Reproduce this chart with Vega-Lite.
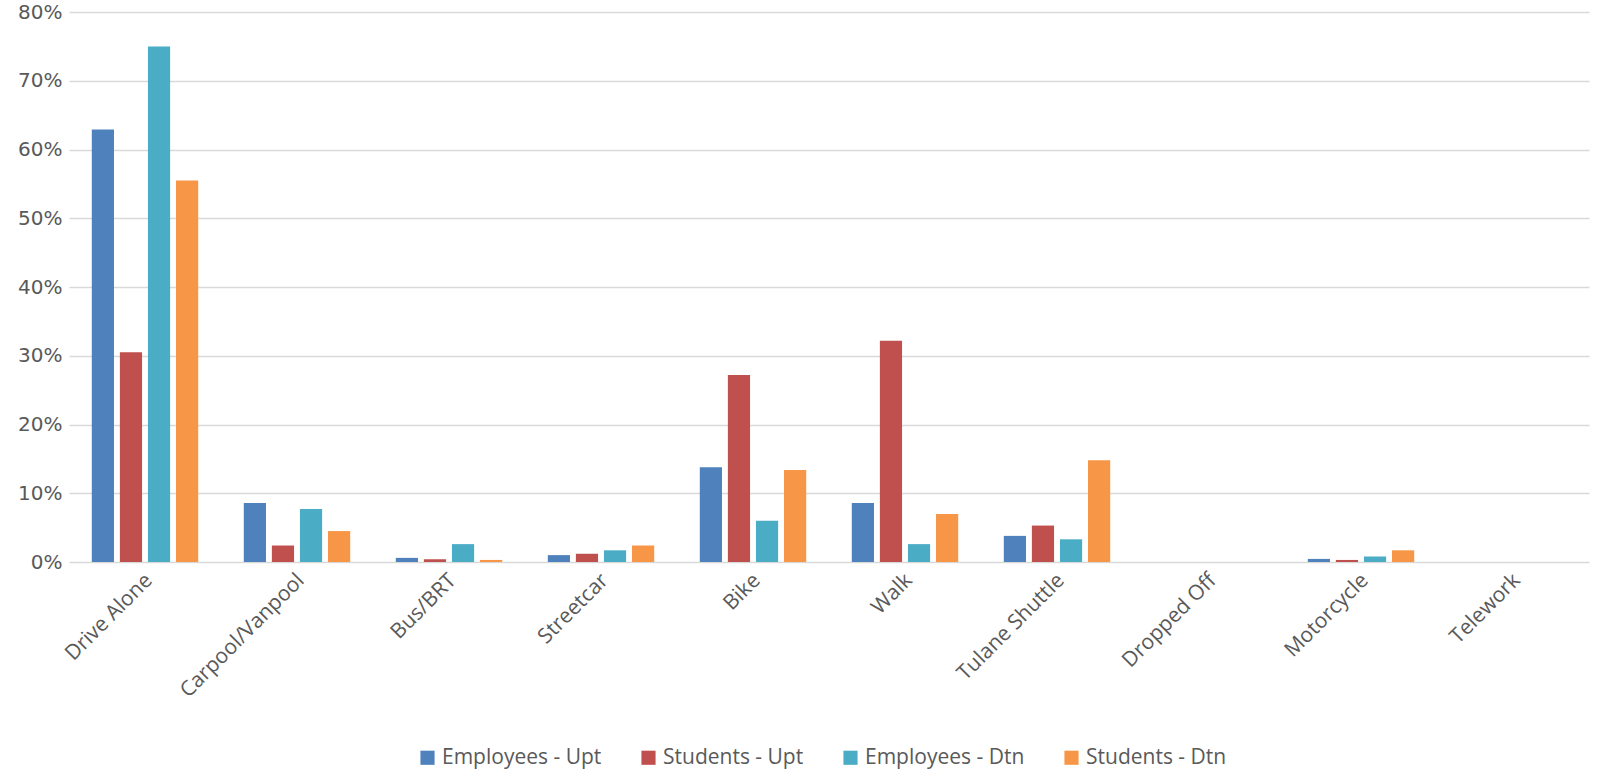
{
  "$schema": "https://vega.github.io/schema/vega-lite/v6.json",
  "autosize": {"type": "none"},
  "width": 1520,
  "height": 550,
  "padding": {"left": 69, "top": 12, "right": 21, "bottom": 208},
  "background": "white",
  "data": {
    "values": [
      {"mode": "Drive Alone", "group": "Employees - Upt", "share": 0.629},
      {"mode": "Drive Alone", "group": "Students - Upt", "share": 0.305},
      {"mode": "Drive Alone", "group": "Employees - Dtn", "share": 0.750},
      {"mode": "Drive Alone", "group": "Students - Dtn", "share": 0.555},
      {"mode": "Carpool/Vanpool", "group": "Employees - Upt", "share": 0.086},
      {"mode": "Carpool/Vanpool", "group": "Students - Upt", "share": 0.024},
      {"mode": "Carpool/Vanpool", "group": "Employees - Dtn", "share": 0.077},
      {"mode": "Carpool/Vanpool", "group": "Students - Dtn", "share": 0.045},
      {"mode": "Bus/BRT", "group": "Employees - Upt", "share": 0.006},
      {"mode": "Bus/BRT", "group": "Students - Upt", "share": 0.004},
      {"mode": "Bus/BRT", "group": "Employees - Dtn", "share": 0.026},
      {"mode": "Bus/BRT", "group": "Students - Dtn", "share": 0.003},
      {"mode": "Streetcar", "group": "Employees - Upt", "share": 0.010},
      {"mode": "Streetcar", "group": "Students - Upt", "share": 0.012},
      {"mode": "Streetcar", "group": "Employees - Dtn", "share": 0.017},
      {"mode": "Streetcar", "group": "Students - Dtn", "share": 0.024},
      {"mode": "Bike", "group": "Employees - Upt", "share": 0.138},
      {"mode": "Bike", "group": "Students - Upt", "share": 0.272},
      {"mode": "Bike", "group": "Employees - Dtn", "share": 0.060},
      {"mode": "Bike", "group": "Students - Dtn", "share": 0.134},
      {"mode": "Walk", "group": "Employees - Upt", "share": 0.086},
      {"mode": "Walk", "group": "Students - Upt", "share": 0.322},
      {"mode": "Walk", "group": "Employees - Dtn", "share": 0.026},
      {"mode": "Walk", "group": "Students - Dtn", "share": 0.070},
      {"mode": "Tulane Shuttle", "group": "Employees - Upt", "share": 0.038},
      {"mode": "Tulane Shuttle", "group": "Students - Upt", "share": 0.053},
      {"mode": "Tulane Shuttle", "group": "Employees - Dtn", "share": 0.033},
      {"mode": "Tulane Shuttle", "group": "Students - Dtn", "share": 0.148},
      {"mode": "Dropped Off", "group": "Employees - Upt", "share": 0},
      {"mode": "Dropped Off", "group": "Students - Upt", "share": 0},
      {"mode": "Dropped Off", "group": "Employees - Dtn", "share": 0},
      {"mode": "Dropped Off", "group": "Students - Dtn", "share": 0},
      {"mode": "Motorcycle", "group": "Employees - Upt", "share": 0.0045},
      {"mode": "Motorcycle", "group": "Students - Upt", "share": 0.003},
      {"mode": "Motorcycle", "group": "Employees - Dtn", "share": 0.008},
      {"mode": "Motorcycle", "group": "Students - Dtn", "share": 0.017},
      {"mode": "Telework", "group": "Employees - Upt", "share": 0},
      {"mode": "Telework", "group": "Students - Upt", "share": 0},
      {"mode": "Telework", "group": "Employees - Dtn", "share": 0},
      {"mode": "Telework", "group": "Students - Dtn", "share": 0}
    ]
  },
  "mark": {"type": "bar"},
  "encoding": {
    "x": {
      "field": "mode",
      "type": "nominal",
      "sort": null,
      "title": null,
      "scale": {"paddingInner": 0.3, "paddingOuter": 0.15},
      "axis": {
        "labelAngle": -45,
        "labelAlign": "right",
        "labelBaseline": "middle",
        "labelPadding": 15,
        "labelOffset": 4,
        "labelFont": "Open Sans",
        "labelFontSize": 21,
        "labelColor": "#595959",
        "ticks": false,
        "domain": false,
        "grid": false
      }
    },
    "xOffset": {
      "field": "group",
      "type": "nominal",
      "sort": ["Employees - Upt", "Students - Upt", "Employees - Dtn", "Students - Dtn"],
      "scale": {"paddingInner": 0.21, "paddingOuter": 0}
    },
    "y": {
      "field": "share",
      "type": "quantitative",
      "title": null,
      "scale": {"domain": [0, 0.8], "nice": false},
      "axis": {
        "values": [0, 0.1, 0.2, 0.3, 0.4, 0.5, 0.6, 0.7, 0.8],
        "format": ".0%",
        "labelFont": "DejaVu Sans",
        "labelFontSize": 20,
        "labelColor": "#595959",
        "labelPadding": 7,
        "ticks": false,
        "domain": false,
        "gridColor": "#d9d9d9",
        "gridWidth": 1.6
      }
    },
    "color": {
      "field": "group",
      "type": "nominal",
      "title": null,
      "sort": ["Employees - Upt", "Students - Upt", "Employees - Dtn", "Students - Dtn"],
      "scale": {
        "domain": ["Employees - Upt", "Students - Upt", "Employees - Dtn", "Students - Dtn"],
        "range": ["#4f81bd", "#c0504d", "#4bacc6", "#f79646"]
      },
      "legend": {
        "orient": "none",
        "direction": "horizontal",
        "legendX": 348,
        "legendY": 735,
        "symbolType": "square",
        "symbolSize": 200,
        "symbolStrokeWidth": 0,
        "labelFont": "Open Sans",
        "labelFontSize": 21,
        "labelColor": "#595959",
        "labelOffset": 4,
        "columnPadding": 36
      }
    }
  },
  "config": {"view": {"stroke": null}}
}
